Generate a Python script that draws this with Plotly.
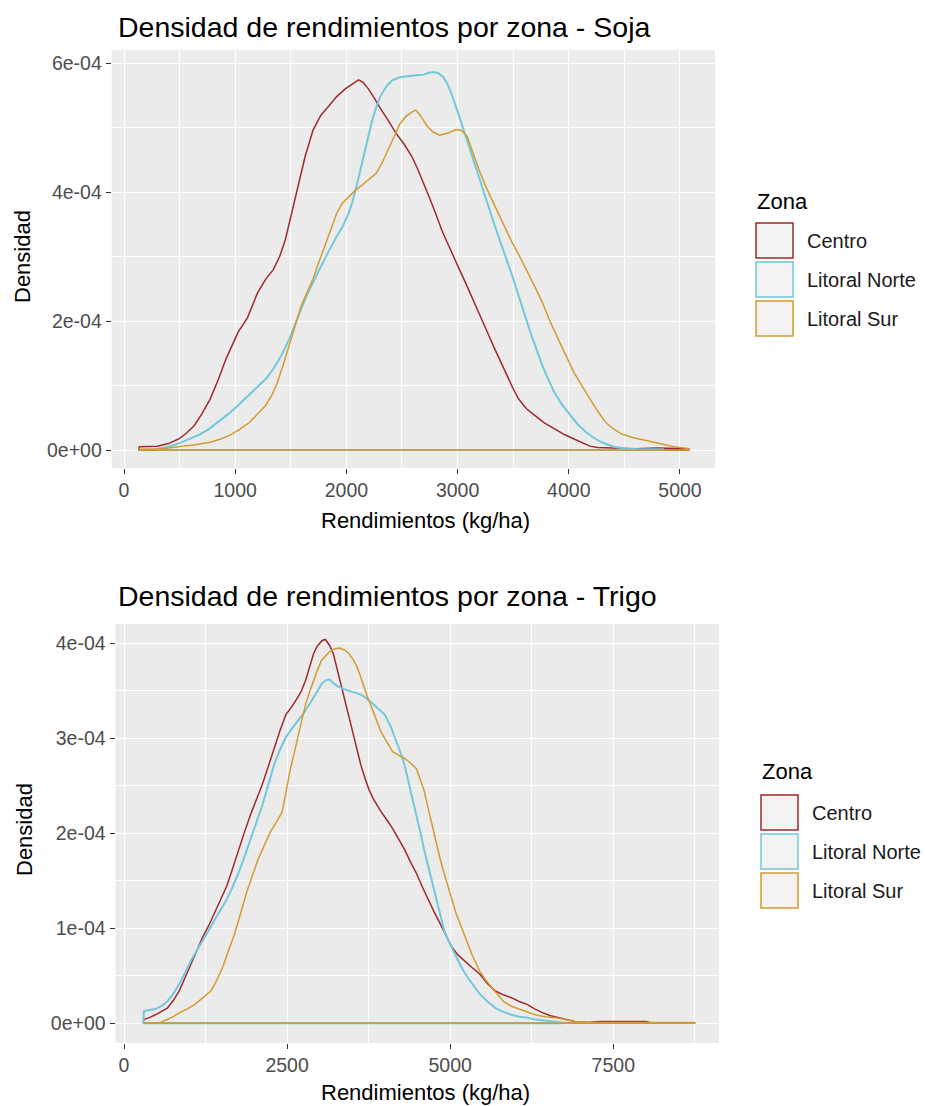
import plotly.graph_objects as go

# ---------------- data (density in units of 1e-4) ----------------
zonas = ["Centro", "Litoral Norte", "Litoral Sur"]
colores = ["#9E2A2B", "#72C8DB", "#D39B2E"]

soja_centro_x = [135, 300, 400, 490, 560, 633, 700, 775, 850, 917, 1024, 1110, 1202, 1275, 1344, 1400, 1451, 1500, 1557, 1629, 1700, 1771, 1840, 1913, 1990, 2055, 2109, 2150, 2198, 2250, 2304, 2380, 2447, 2520, 2589, 2640, 2696, 2750, 2802, 2860, 2909, 2960, 3016, 3070, 3122, 3175, 3229, 3280, 3336, 3390, 3442, 3500, 3549, 3620, 3691, 3780, 3869, 3960, 4047, 4120, 4189, 4260, 4400, 4600, 4800, 4950, 5080]
soja_centro_d = [0.05, 0.06, 0.10, 0.17, 0.26, 0.38, 0.56, 0.79, 1.10, 1.41, 1.82, 2.05, 2.44, 2.65, 2.80, 3.00, 3.26, 3.62, 4.03, 4.55, 4.96, 5.19, 5.33, 5.48, 5.60, 5.68, 5.74, 5.70, 5.60, 5.46, 5.30, 5.10, 4.91, 4.74, 4.55, 4.36, 4.14, 3.90, 3.67, 3.40, 3.21, 3.00, 2.80, 2.60, 2.39, 2.18, 1.98, 1.78, 1.56, 1.35, 1.15, 0.95, 0.79, 0.64, 0.54, 0.42, 0.33, 0.24, 0.17, 0.11, 0.06, 0.04, 0.03, 0.02, 0.03, 0.03, 0.02]

soja_norte_x = [300, 400, 490, 580, 669, 760, 846, 940, 1024, 1110, 1202, 1275, 1344, 1420, 1486, 1560, 1629, 1700, 1771, 1840, 1913, 1970, 2020, 2055, 2091, 2127, 2162, 2198, 2233, 2270, 2304, 2360, 2411, 2480, 2553, 2630, 2696, 2740, 2785, 2830, 2873, 2910, 2944, 2980, 3016, 3070, 3122, 3175, 3229, 3280, 3336, 3390, 3442, 3500, 3549, 3600, 3656, 3710, 3762, 3815, 3869, 3940, 4011, 4080, 4153, 4225, 4296, 4350, 4402, 4509, 4650, 4850]
soja_norte_d = [0.02, 0.05, 0.10, 0.16, 0.23, 0.32, 0.43, 0.56, 0.69, 0.83, 0.97, 1.10, 1.26, 1.48, 1.72, 2.03, 2.34, 2.60, 2.85, 3.08, 3.31, 3.48, 3.67, 3.85, 4.09, 4.35, 4.60, 4.86, 5.12, 5.32, 5.48, 5.64, 5.73, 5.78, 5.80, 5.81, 5.82, 5.85, 5.86, 5.84, 5.78, 5.67, 5.53, 5.36, 5.17, 4.88, 4.60, 4.31, 4.03, 3.75, 3.47, 3.20, 2.95, 2.66, 2.39, 2.10, 1.82, 1.56, 1.31, 1.10, 0.90, 0.70, 0.54, 0.40, 0.28, 0.19, 0.12, 0.08, 0.05, 0.02, 0.01, 0.01]

soja_sur_x = [135, 350, 490, 640, 775, 870, 953, 1040, 1131, 1200, 1273, 1330, 1380, 1430, 1486, 1540, 1593, 1650, 1700, 1750, 1806, 1860, 1913, 1960, 2020, 2070, 2127, 2200, 2269, 2320, 2376, 2430, 2482, 2540, 2589, 2624, 2660, 2700, 2731, 2780, 2838, 2880, 2909, 2960, 2998, 3040, 3087, 3140, 3193, 3260, 3336, 3400, 3478, 3550, 3620, 3690, 3762, 3830, 3905, 3975, 4047, 4120, 4189, 4260, 4331, 4400, 4473, 4580, 4687, 4780, 4865, 4950, 5042, 5078]
soja_sur_d = [0.01, 0.02, 0.05, 0.08, 0.12, 0.17, 0.23, 0.32, 0.43, 0.55, 0.69, 0.85, 1.05, 1.31, 1.62, 1.93, 2.23, 2.46, 2.65, 2.90, 3.16, 3.42, 3.67, 3.82, 3.93, 4.01, 4.09, 4.19, 4.29, 4.45, 4.65, 4.86, 5.06, 5.18, 5.24, 5.27, 5.20, 5.08, 5.01, 4.93, 4.88, 4.90, 4.91, 4.95, 4.97, 4.95, 4.86, 4.60, 4.34, 4.06, 3.78, 3.52, 3.26, 3.03, 2.80, 2.55, 2.29, 2.00, 1.72, 1.45, 1.20, 0.99, 0.79, 0.60, 0.43, 0.33, 0.25, 0.19, 0.15, 0.11, 0.08, 0.05, 0.03, 0.02]

trigo_centro_x = [300, 390, 481, 570, 663, 755, 845, 935, 1027, 1118, 1208, 1300, 1390, 1480, 1572, 1660, 1754, 1845, 1936, 2027, 2118, 2210, 2300, 2390, 2481, 2570, 2663, 2720, 2784, 2850, 2906, 2960, 2997, 3040, 3087, 3150, 3209, 3270, 3330, 3390, 3451, 3510, 3573, 3630, 3694, 3755, 3815, 3880, 3937, 4030, 4118, 4210, 4300, 4390, 4482, 4570, 4664, 4755, 4846, 4936, 5027, 5118, 5209, 5330, 5452, 5570, 5694, 5815, 5937, 6058, 6179, 6300, 6421, 6540, 6664, 6800, 6906, 7100, 7300, 7600, 8000, 8050]
trigo_centro_d = [0.04, 0.06, 0.09, 0.12, 0.16, 0.24, 0.34, 0.48, 0.63, 0.77, 0.91, 1.03, 1.16, 1.30, 1.44, 1.62, 1.83, 2.01, 2.19, 2.35, 2.51, 2.70, 2.90, 3.08, 3.25, 3.33, 3.43, 3.50, 3.61, 3.77, 3.89, 3.97, 4.00, 4.03, 4.04, 3.98, 3.89, 3.72, 3.54, 3.38, 3.22, 3.04, 2.86, 2.72, 2.58, 2.46, 2.37, 2.29, 2.23, 2.14, 2.05, 1.94, 1.83, 1.70, 1.58, 1.44, 1.30, 1.17, 1.05, 0.93, 0.80, 0.72, 0.66, 0.59, 0.52, 0.42, 0.34, 0.30, 0.27, 0.23, 0.20, 0.15, 0.11, 0.08, 0.06, 0.04, 0.02, 0.01, 0.02, 0.02, 0.02, 0.01]

trigo_norte_x = [300, 310, 390, 481, 570, 663, 755, 845, 935, 1027, 1118, 1208, 1300, 1390, 1480, 1572, 1660, 1754, 1845, 1936, 2027, 2118, 2210, 2300, 2390, 2481, 2570, 2663, 2750, 2845, 2940, 3027, 3090, 3148, 3210, 3270, 3360, 3451, 3540, 3633, 3720, 3815, 3900, 3997, 4090, 4179, 4240, 4300, 4360, 4421, 4480, 4543, 4600, 4664, 4725, 4785, 4845, 4906, 5000, 5088, 5180, 5270, 5360, 5452, 5570, 5694, 5815, 5937, 6058, 6179, 6300, 6421, 6550, 6700]
trigo_norte_d = [0.09, 0.13, 0.14, 0.15, 0.18, 0.23, 0.31, 0.41, 0.53, 0.66, 0.77, 0.87, 0.98, 1.09, 1.19, 1.30, 1.43, 1.58, 1.75, 1.94, 2.11, 2.29, 2.50, 2.72, 2.88, 3.01, 3.10, 3.18, 3.26, 3.36, 3.47, 3.57, 3.61, 3.62, 3.58, 3.55, 3.52, 3.50, 3.48, 3.46, 3.42, 3.36, 3.31, 3.25, 3.12, 2.97, 2.85, 2.72, 2.55, 2.37, 2.19, 2.01, 1.83, 1.65, 1.47, 1.30, 1.14, 0.98, 0.83, 0.70, 0.58, 0.48, 0.39, 0.31, 0.23, 0.16, 0.12, 0.09, 0.07, 0.06, 0.04, 0.03, 0.02, 0.01]

trigo_sur_x = [300, 560, 663, 755, 845, 965, 1088, 1210, 1330, 1420, 1512, 1600, 1694, 1785, 1875, 1966, 2057, 2150, 2239, 2330, 2421, 2480, 2542, 2600, 2663, 2720, 2784, 2850, 2906, 2966, 3027, 3090, 3148, 3220, 3300, 3380, 3451, 3510, 3573, 3630, 3694, 3750, 3815, 3875, 3937, 4030, 4118, 4210, 4300, 4390, 4482, 4540, 4603, 4660, 4724, 4785, 4846, 4906, 4967, 5027, 5088, 5150, 5209, 5270, 5330, 5390, 5452, 5540, 5634, 5725, 5815, 5937, 6058, 6179, 6300, 6450, 6603, 6750, 6906, 7200, 7600, 8000, 8400, 8750]
trigo_sur_d = [0.00, 0.01, 0.04, 0.07, 0.11, 0.15, 0.20, 0.27, 0.34, 0.45, 0.59, 0.76, 0.94, 1.15, 1.37, 1.55, 1.73, 1.87, 2.01, 2.11, 2.22, 2.42, 2.65, 2.82, 3.00, 3.18, 3.36, 3.50, 3.61, 3.72, 3.82, 3.87, 3.91, 3.94, 3.95, 3.93, 3.89, 3.83, 3.75, 3.64, 3.50, 3.40, 3.29, 3.18, 3.07, 2.96, 2.86, 2.82, 2.79, 2.74, 2.68, 2.57, 2.44, 2.27, 2.08, 1.90, 1.73, 1.58, 1.44, 1.30, 1.16, 1.05, 0.94, 0.83, 0.73, 0.64, 0.55, 0.46, 0.38, 0.30, 0.23, 0.18, 0.15, 0.12, 0.09, 0.07, 0.06, 0.04, 0.02, 0.01, 0.01, 0.01, 0.01, 0.01]

soja_xticks = [0, 1000, 2000, 3000, 4000, 5000]
soja_xticklabels = ["0", "1000", "2000", "3000", "4000", "5000"]
soja_yticks = [0, 2e-4, 4e-4, 6e-4]
soja_yticklabels = ["0e+00", "2e-04", "4e-04", "6e-04"]
trigo_xticks = [0, 2500, 5000, 7500]
trigo_xticklabels = ["0", "2500", "5000", "7500"]
trigo_yticks = [0, 1e-4, 2e-4, 3e-4, 4e-4]
trigo_yticklabels = ["0e+00", "1e-04", "2e-04", "3e-04", "4e-04"]

titulo_soja = "Densidad de rendimientos por zona - Soja"
titulo_trigo = "Densidad de rendimientos por zona - Trigo"
eje_x = "Rendimientos (kg/ha)"
eje_y = "Densidad"
leyenda_titulo = "Zona"

# ---------------- figure ----------------
W, H = 925, 1106
FONT = "Liberation Sans, Arial, sans-serif"
fig = go.Figure()

line_widths = [1.5, 2.0, 1.5]

def add_density(xs, ds, color, width, xa, ya, name):
    d = [v * 1e-4 for v in ds]
    px = list(xs) + [xs[-1], xs[0], xs[0]]
    py = d + [0.0, 0.0, d[0]]
    fig.add_trace(go.Scatter(x=px, y=py, mode="lines", name=name,
                             line=dict(color=color, width=width),
                             xaxis=xa, yaxis=ya, showlegend=False,
                             hoverinfo="skip"))

soja = [(soja_centro_x, soja_centro_d), (soja_norte_x, soja_norte_d), (soja_sur_x, soja_sur_d)]
trigo = [(trigo_centro_x, trigo_centro_d), (trigo_norte_x, trigo_norte_d), (trigo_sur_x, trigo_sur_d)]
for i, (xs, ds) in enumerate(soja):
    add_density(xs, ds, colores[i], line_widths[i], "x", "y", zonas[i])
for i, (xs, ds) in enumerate(trigo):
    add_density(xs, ds, colores[i], line_widths[i], "x2", "y2", zonas[i])

def px2paper(x, y):
    return x / W, 1 - y / H

tickfont = dict(family=FONT, size=19.5, color="#4D4D4D")
common_ax = dict(showline=False, zeroline=False, ticks="outside", ticklen=5,
                 tickcolor="#333333", tickwidth=1, gridcolor="white", gridwidth=1.2,
                 tickfont=tickfont, tickmode="array")

fig.update_layout(
    width=W, height=H, margin=dict(l=0, r=0, t=0, b=0),
    paper_bgcolor="white", plot_bgcolor="#EBEBEB",
    showlegend=False,
    xaxis=dict(domain=[111.7 / W, 715 / W], anchor="y", range=[-110.6, 5315],
               tickvals=soja_xticks, ticktext=soja_xticklabels,
               minor=dict(showgrid=True, gridcolor="white", gridwidth=0.6, dtick=500, tick0=0),
               **common_ax),
    yaxis=dict(domain=[1 - 468 / H, 1 - 50 / H], anchor="x", range=[-0.279e-4, 6.202e-4],
               tickvals=soja_yticks, ticktext=soja_yticklabels,
               minor=dict(showgrid=True, gridcolor="white", gridwidth=0.6, dtick=1e-4, tick0=0),
               **common_ax),
    xaxis2=dict(domain=[115.5 / W, 719 / W], anchor="y2", range=[-130.3, 9120],
                tickvals=trigo_xticks, ticktext=trigo_xticklabels,
                minor=dict(showgrid=True, gridcolor="white", gridwidth=0.6, dtick=1250, tick0=0),
                **common_ax),
    yaxis2=dict(domain=[1 - 1043 / H, 1 - 624 / H], anchor="x2", range=[-0.207e-4, 4.203e-4],
                tickvals=trigo_yticks, ticktext=trigo_yticklabels,
                minor=dict(showgrid=True, gridcolor="white", gridwidth=0.6, dtick=0.5e-4, tick0=0),
                **common_ax),
)

annotations = []
shapes = []

def text(x, y, s, size, color="black", xanchor="left", angle=0):
    px, py = px2paper(x, y)
    annotations.append(dict(x=px, y=py, xref="paper", yref="paper", text=s, showarrow=False,
                            xanchor=xanchor, yanchor="middle", textangle=angle,
                            font=dict(family=FONT, size=size, color=color)))

# titles
text(116, 27, titulo_soja, 28.5)
text(116, 596, titulo_trigo, 28.5)
# axis titles
text(425, 520, eje_x, 22, xanchor="center")
text(425, 1092, eje_x, 22, xanchor="center")
text(22, 257, eje_y, 22, xanchor="center", angle=-90)
text(24, 830, eje_y, 22, xanchor="center", angle=-90)

# legends (ggplot-style keys)
def legend(x0, title_y, first_top, label_x):
    text(x0 - 1, title_y, leyenda_titulo, 22)
    for i, z in enumerate(zonas):
        top = first_top + i * 39
        a0, b0 = px2paper(x0, top)
        a1, b1 = px2paper(x0 + 37, top + 35)
        shapes.append(dict(type="rect", xref="paper", yref="paper", x0=a0, x1=a1, y0=b1, y1=b0,
                           fillcolor="#F2F2F2", line=dict(color=colores[i], width=1.5)))
        text(label_x, top + 18, z, 20, color="#1A1A1A")

legend(756, 201, 223, 805)
legend(761, 771, 795, 810)

fig.update_layout(annotations=annotations, shapes=shapes)
fig.write_html("out.html")
